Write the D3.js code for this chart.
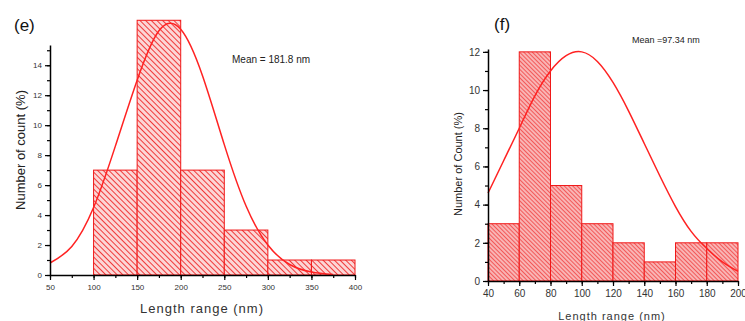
<!DOCTYPE html>
<html>
<head>
<meta charset="utf-8">
<script src="https://cdn.jsdelivr.net/npm/d3@7"></script>
<style>
  body { margin: 0; background: #fff; }
  svg { display: block; font-family: "Liberation Sans", Arial, sans-serif; }
</style>
</head>
<body>
<div class="histograms"></div>
<script>
const width = 745;
const height = 321;

// panel (e)
const binStartE = [100, 150, 200, 250, 300, 350];
const binEndE = [150, 200, 250, 300, 350, 400];
const countE = [7, 17, 7, 3, 1, 1];
const fitXE = [50, 75, 100, 125, 150, 175, 200, 225, 250, 275, 300, 325, 350, 375];
const fitYE = [0.8, 1.9, 4.5, 8.6, 13.0, 16.3, 16.4, 13.3, 8.7, 4.6, 2.0, 0.7, 0.2, 0.03];
const xTicksE = [50, 100, 150, 200, 250, 300, 350, 400];
const yTicksE = [0, 2, 4, 6, 8, 10, 12, 14];

// panel (f)
const binStartF = [40, 60, 80, 100, 120, 140, 160, 180];
const binEndF = [60, 80, 100, 120, 140, 160, 180, 200];
const countF = [3, 12, 5, 3, 2, 1, 2, 2];
const fitXF = [40, 50, 60, 70, 80, 90, 100, 110, 120, 130, 140, 150, 160, 170, 180, 190, 200];
const fitYF = [4.6, 6.3, 8.0, 9.7, 11.0, 11.8, 12.0, 11.5, 10.4, 8.9, 7.2, 5.5, 3.9, 2.6, 1.7, 1.0, 0.5];
const xTicksF = [40, 60, 80, 100, 120, 140, 160, 180, 200];
const yTicksF = [0, 2, 4, 6, 8, 10, 12];

let svg = d3
  .select(".histograms")
  .append("svg")
  .attr("width", width)
  .attr("height", height);

// hatch fill for the bars ("\" direction)
let defs = svg.append("defs");
function hatch(id, gap, bg) {
  let p = defs
    .append("pattern")
    .attr("id", id)
    .attr("patternUnits", "userSpaceOnUse")
    .attr("width", gap)
    .attr("height", gap)
    .attr("patternTransform", "rotate(-45)");
  p.append("rect").attr("width", gap).attr("height", gap).attr("fill", bg);
  p.append("line")
    .attr("x1", 0).attr("y1", 0).attr("x2", 0).attr("y2", gap)
    .attr("stroke", "#f03a3a")
    .attr("stroke-width", gap * 0.5);
}
hatch("hatchE", 4, "#fcd6d6");
hatch("hatchF", 3, "#f9b4b4");

var drawPanel = (o) => {
  let xScale = d3.scaleLinear().domain(o.xDomain).range(o.xRange);
  let yScale = d3.scaleLinear().domain(o.yDomain).range(o.yRange);
  let g = svg.append("g");

  let bars = o.starts.map((s, i) => ({ x0: s, x1: o.ends[i], v: o.counts[i] }));
  g.selectAll("rect.bar")
    .data(bars)
    .enter()
    .append("rect")
    .attr("class", "bar")
    .attr("x", (d) => xScale(d.x0))
    .attr("width", (d) => xScale(d.x1) - xScale(d.x0))
    .attr("y", (d) => yScale(d.v))
    .attr("height", (d) => yScale(0) - yScale(d.v))
    .attr("fill", "url(#" + o.pattern + ")")
    .attr("stroke", "#f01818")
    .attr("stroke-width", 1);

  let line = d3
    .line()
    .x((d) => xScale(d[0]))
    .y((d) => yScale(d[1]))
    .curve(d3.curveNatural);
  g.append("path")
    .datum(o.fitX.map((x, i) => [x, o.fitY[i]]))
    .attr("d", line)
    .attr("fill", "none")
    .attr("stroke", "#f22")
    .attr("stroke-width", 1.5);

  // minor ticks first, majors on top
  let minorX = d3.range(o.xDomain[0], o.xDomain[1] + 0.01, o.xMinor);
  g.append("g")
    .attr("transform", "translate(0," + yScale(0) + ")")
    .call(d3.axisBottom(xScale).tickValues(minorX).tickSize(3).tickFormat(""))
    .call((a) => a.select(".domain").remove());
  let minorY = d3.range(0, o.yDomain[1], o.yMinor);
  g.append("g")
    .attr("transform", "translate(" + xScale(o.xDomain[0]) + ",0)")
    .call(d3.axisLeft(yScale).tickValues(minorY).tickSize(3).tickFormat(""))
    .call((a) => a.select(".domain").remove());

  let xAxis = g
    .append("g")
    .attr("transform", "translate(0," + yScale(0) + ")")
    .call(d3.axisBottom(xScale).tickValues(o.xTicks).tickSize(5).tickSizeOuter(0).tickPadding(4));
  xAxis.selectAll("text").attr("font-size", o.tickFont).attr("fill", "#333");
  let yAxis = g
    .append("g")
    .attr("transform", "translate(" + xScale(o.xDomain[0]) + ",0)")
    .call(d3.axisLeft(yScale).tickValues(o.yTicks).tickSize(5).tickSizeOuter(0).tickPadding(3));
  yAxis.selectAll("text").attr("font-size", o.tickFont).attr("fill", "#333");
  g.selectAll(".domain").attr("stroke-width", 1.5);
  g.selectAll(".tick line").attr("stroke-width", 1.2);

  g.append("text")
    .text(o.xLabel)
    .attr("text-anchor", "middle")
    .attr("x", o.xLabelPos[0])
    .attr("y", o.xLabelPos[1])
    .attr("font-size", o.labelFont)
    .attr("letter-spacing", 1)
    .attr("fill", "#333");
  g.append("text")
    .text(o.yLabel)
    .attr("text-anchor", "middle")
    .attr("transform", "translate(" + o.yLabelPos[0] + "," + o.yLabelPos[1] + ") rotate(-90)")
    .attr("font-size", o.labelFont)
    .attr("fill", "#222");
  g.append("text")
    .text(o.mean)
    .attr("x", o.meanPos[0])
    .attr("y", o.meanPos[1])
    .attr("font-size", o.meanFont)
    .attr("fill", "#222");
  g.append("text")
    .text(o.tag)
    .attr("x", o.tagPos[0])
    .attr("y", o.tagPos[1])
    .attr("font-size", 17)
    .attr("fill", "#111");
};

drawPanel({
  starts: binStartE, ends: binEndE, counts: countE,
  fitX: fitXE, fitY: fitYE,
  xTicks: xTicksE, yTicks: yTicksE, xMinor: 25, yMinor: 1,
  xDomain: [50, 400], xRange: [50, 355],
  yDomain: [0, 15.35], yRange: [275, 45],
  pattern: "hatchE", tickFont: 8, labelFont: 13, meanFont: 10,
  xLabel: "Length range (nm)", xLabelPos: [202, 313],
  yLabel: "Number of count (%)", yLabelPos: [25, 150],
  mean: "Mean = 181.8 nm", meanPos: [232, 63],
  tag: "(e)", tagPos: [14, 31],
});

drawPanel({
  starts: binStartF, ends: binEndF, counts: countF,
  fitX: fitXF, fitY: fitYF,
  xTicks: xTicksF, yTicks: yTicksF, xMinor: 10, yMinor: 1,
  xDomain: [40, 200], xRange: [488, 738],
  yDomain: [0, 12.15], yRange: [281, 49],
  pattern: "hatchF", tickFont: 10, labelFont: 11, meanFont: 9,
  xLabel: "Length range (nm)", xLabelPos: [612, 320],
  yLabel: "Number of Count (%)", yLabelPos: [462, 164],
  mean: "Mean =97.34 nm", meanPos: [632, 43],
  tag: "(f)", tagPos: [494, 30],
});
</script>
</body>
</html>
